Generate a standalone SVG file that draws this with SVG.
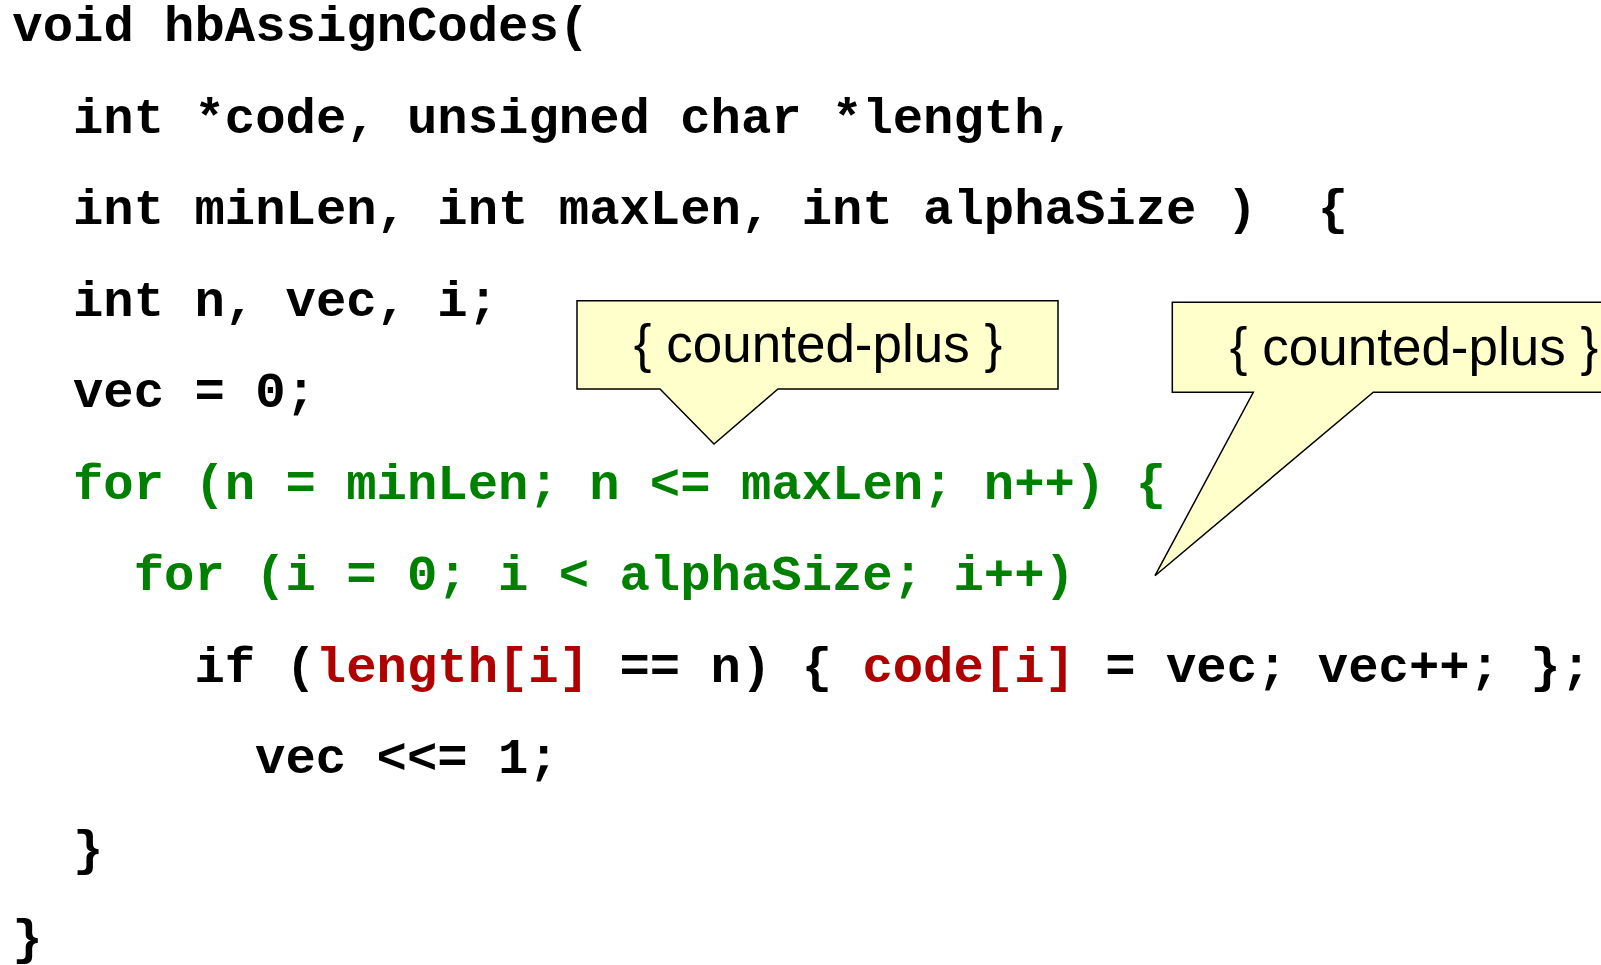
<svg xmlns="http://www.w3.org/2000/svg" width="1601" height="965" viewBox="0 0 1601 965">
<style>
.code{font-family:"Liberation Mono","Courier New",monospace;font-weight:bold;font-size:50.6px;fill:#000;white-space:pre}
.g{fill:#008000}
.r{fill:#B00000}
.callout{fill:#FFFFCC;stroke:#000;stroke-width:1.5;stroke-linejoin:miter}
.lbl{font-family:"Liberation Sans",Arial,sans-serif;font-size:53px;fill:#000;white-space:pre}
</style>
<rect width="1601" height="965" fill="#fff"/>
<g id="code">
<text class="code" x="12.3" y="41">void hbAssignCodes(</text>
<text class="code" x="73" y="132.5">int *code, unsigned char *length,</text>
<text class="code" x="73" y="224">int minLen, int maxLen, int alphaSize )  {</text>
<text class="code" x="73" y="315.5">int n, vec, i;</text>
<text class="code" x="73" y="407">vec = 0;</text>
<text class="code g" x="73" y="498.5">for (n = minLen; n &lt;= maxLen; n++) {</text>
<text class="code g" x="133.7" y="590">for (i = 0; i &lt; alphaSize; i++)</text>
<text class="code" x="194.4" y="681.5">if (<tspan class="r">length[i]</tspan> == n) { <tspan class="r">code[i]</tspan> = vec; vec++; };</text>
<text class="code" x="255.1" y="773">vec &lt;&lt;= 1;</text>
<text class="code" x="73" y="864.5">}</text>
<text class="code" x="12.3" y="954">}</text>
</g>
<g id="connectors"></g>
<g id="callout1">
<path class="callout" d="M577,300.7 H1058 V389 H778 L714,444 L660,389 H577 Z"/>
<text class="lbl" x="818" y="361.5" text-anchor="middle">{ counted-plus }</text>
</g>
<g id="callout2">
<path class="callout" d="M1172.3,302.3 H1612 V392.3 H1373.3 L1155,575.7 L1253.3,392.3 H1172.3 Z"/>
<text class="lbl" x="1414" y="365" text-anchor="middle">{ counted-plus }</text>
</g>
</svg>
